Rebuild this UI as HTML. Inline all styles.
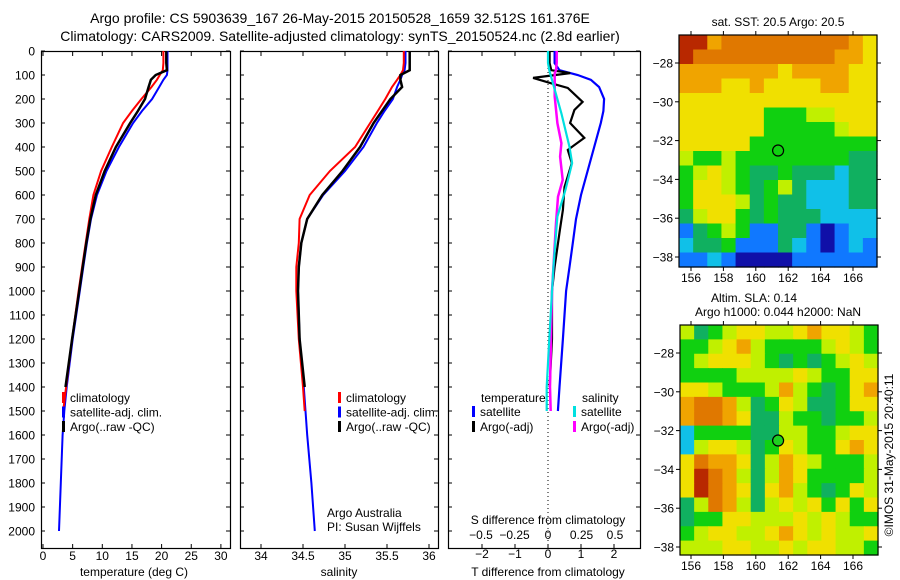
<!DOCTYPE html>
<html><head><meta charset="utf-8"><style>
body{margin:0;background:#fff;}
svg{display:block;font-family:"Liberation Sans",sans-serif;}
text{fill:#000;}
</style></head><body>
<svg id="c" width="900" height="580" viewBox="0 0 900 580">
<text x="340" y="23" font-size="14" text-anchor="middle">Argo profile: CS 5903639_167 26-May-2015 20150528_1659 32.512S 161.376E</text>
<text x="340" y="41" font-size="14" text-anchor="middle">Climatology: CARS2009. Satellite-adjusted climatology: synTS_20150524.nc (2.8d earlier)</text>
<g id="g"></g>
</svg>
<script>
// ---- data ----
const depthLevels=[0,50,80,100,120,150,200,250,300,400,500,600,700,800,900,1000,1200,1400,1500,1600,1800,2000];
const tempClim=[20.3,20.3,20.2,19.7,19.2,18.3,16.6,15.0,13.5,11.6,9.8,8.5,7.8,7.2,6.6,6.0,4.9,3.9,3.4];
const tempSat=[21.0,21.0,21.0,20.9,20.3,19.6,18.4,16.7,15.2,12.8,10.7,9.1,8.1,7.4,6.8,6.2,5.0,4.0,3.6,3.3,3.0,2.7];
const tempArgo=[20.8,20.8,20.9,19.0,18.2,17.8,17.2,16.0,14.7,12.3,10.4,8.9,8.0,7.3,6.7,6.1,4.9,3.8];
const salClim=[35.7,35.7,35.69,35.66,35.62,35.56,35.48,35.39,35.3,35.12,34.82,34.58,34.46,34.45,34.42,34.42,34.45,34.5,34.52];
const salSat=[35.72,35.72,35.71,35.68,35.66,35.62,35.57,35.47,35.38,35.22,35.0,34.74,34.55,34.48,34.45,34.44,34.46,34.51,34.53,34.55,34.6,34.64];
const salArgo=[35.77,35.77,35.77,35.66,35.66,35.68,35.54,35.44,35.34,35.18,34.97,34.73,34.55,34.48,34.45,34.44,34.46,34.52];
const dTSatDepth=[0,50,80,100,120,150,200,250,300,400,500,600,700,800,900,1000,1200,1400,1500];
const dTSat=[0.2,0.2,0.35,0.9,1.3,1.55,1.7,1.68,1.6,1.4,1.2,1.0,0.85,0.75,0.65,0.55,0.45,0.35,0.3];
const dTArgoDepth=[0,50,80,92,112,133,154,212,246,300,362,412,467,567,662,745,900,1000,1200,1400];
const dTArgo=[0.05,0.05,0.1,0.67,-0.45,0.06,0.6,1.05,0.8,0.67,1.1,0.6,0.72,0.5,0.45,0.36,0.2,0.12,0.12,0.05];
const dSArgoDepth=[0,50,80,93,190,301,384,440,537,607,718,1000,1400,1500];
const dSArgo=[0.065,0.065,0.06,0.05,0.05,0.07,0.1,0.09,0.11,0.075,0.06,0.03,0.015,0.02];
const dSSatDepth=[0,50,80,121,260,398,467,579,690,900,1200,1400,1500];
const dSSat=[0.0,0.0,0.01,0.03,0.1,0.16,0.18,0.13,0.07,0.04,0.01,-0.01,-0.01];
const depthTicks=[0,100,200,300,400,500,600,700,800,900,1000,1100,1200,1300,1400,1500,1600,1700,1800,1900,2000];
const tempTicks=[0,5,10,15,20,25,30];
const salTicks=[34,34.5,35,35.5,36];
const salTickLabels=["34","34.5","35","35.5","36"];
const dTTicks=[-2,-1,0,1,2];
const dSTicks=[-0.5,-0.25,0,0.25,0.5];
const dSTickLabels=["\u22120.5","\u22120.25","0","0.25","0.5"];
const latTicks=[-28,-30,-32,-34,-36,-38];
const lonTicks=[156,158,160,162,164,166];
const sstGrid=["rrOoooooooooOy","rooooooooooOOy","OOOOOOOyOOOOyy","OOOyyOyyyyOOyy","yyyyyyyyyyyyyy","yyyyyygggllyyy","yyyyyyggggglyy","yyyyyggggggggg","lgglggggggggGG","glylgGGgGGGcGG","gyylgGglGcccGG","gyyylGgGGcccGG","GlyygGgGGGcccc","bGglgbbGGbBbcc","cGGgbbbGcbBbcb","bbcbBBBBbbbbbb"];
const slaGrid=["lGglyyllyOyylg","gglyOlgggglylg","glyyylgGgGglyl","ggggllllylggyy","yylggglOlgGgyO","OooOlGgylGGgyy","OooOyGGlggGggl","cggggGGllgglyy","clyylGgylggyOy","yoOOyGlOylgggl","yroOlGlOyggggl","yroOyGyOlgGgyl","GloOlGlylygygy","Gggyylllylylgg","glyyllyOylylly","lllyyllylyyllg"];
const floatLon=161.376, floatLat=-32.512;
// ---- helpers ----
const NS="http://www.w3.org/2000/svg";
const G=document.getElementById('g');
function el(tag,attrs,parent){const e=document.createElementNS(NS,tag);for(const k in attrs)e.setAttribute(k,attrs[k]);(parent||G).appendChild(e);return e;}
const yD=d=>51+d*0.24;
const xT=t=>43+t*5.93;
const xS=s=>261+(s-34)*84;
const xdT=v=>548+v*33;
const xdS=v=>548+v*134;
function line(xs,ds,xf,col,w,name){
  const pts=xs.map((v,i)=>xf(v).toFixed(1)+","+yD(ds[i]).toFixed(1)).join(" ");
  const p=el('polyline',{points:pts,fill:'none',stroke:col,'stroke-width':w,'stroke-linejoin':'miter'});
  
  
}
function txt(x,y,s,size,anchor,name){const t=el('text',{x:x,y:y,'font-size':size,'text-anchor':anchor||'start'});t.textContent=s;return t;}
function box(x0,x1,name){const r=el('rect',{x:x0+0.5,y:51.5,width:x1-x0,height:497,fill:'none',stroke:'#000','stroke-width':1.2});}
// panels
const panels=[[41,230],[240,438],[448,640]];
panels.forEach((p,i)=>box(p[0],p[1],'profile-panel-'+(i+1)));
// depth ticks
depthTicks.forEach(d=>{
  const y=yD(d);
  txt(35,y+4.5,String(d),12,'end','depth-tick-label');
  panels.forEach(p=>{el('line',{x1:p[0],x2:p[0]+4,y1:y,y2:y,stroke:'#000'});el('line',{x1:p[1]-4,x2:p[1],y1:y,y2:y,stroke:'#000'});});
});
function xticks(vals,labels,xf,y,name,top){
  vals.forEach((v,i)=>{const x=xf(v);
    el('line',{x1:x,x2:x,y1:548,y2:544,stroke:'#000'});
    if(top)el('line',{x1:x,x2:x,y1:52,y2:56,stroke:'#000'});
    txt(x,y,labels[i],12,'middle',name);});
}
xticks(tempTicks,tempTicks.map(String),xT,560,'temp-tick-label',true);
xticks(salTicks,salTickLabels,xS,560,'sal-tick-label',true);
xticks(dTTicks,dTTicks.map(v=>v<0?"\u2212"+(-v):String(v)),xdT,558,'dt-tick-label',true);
dSTicks.forEach((v,i)=>txt(xdS(v),539,dSTickLabels[i],12,'middle','ds-tick-label'));
txt(134,576,'temperature (deg C)',12,'middle','x-axis-title-temp');
txt(339,576,'salinity',12,'middle','x-axis-title-sal');
txt(548,576,'T difference from climatology',12,'middle','x-axis-title-dt');
txt(548,524,'S difference from climatology',12,'middle','x-axis-title-ds');
// dotted zero line
const zl=el('line',{x1:548,x2:548,y1:52,y2:548,stroke:'#000','stroke-dasharray':'1,3'});

// series
line(tempSat,depthLevels,xT,'#0000ff',2,'temp-satellite-line');
line(tempClim,depthLevels,xT,'#ff0000',2,'temp-climatology-line');
line(tempArgo,depthLevels,xT,'#000',2.5,'temp-argo-line');
line(salSat,depthLevels,xS,'#0000ff',2,'sal-satellite-line');
line(salClim,depthLevels,xS,'#ff0000',2,'sal-climatology-line');
line(salArgo,depthLevels,xS,'#000',2.5,'sal-argo-line');
line(dTSat,dTSatDepth,xdT,'#0000ff',2.2,'dt-satellite-line');
line(dTArgo,dTArgoDepth,xdT,'#000',2.2,'dt-argo-line');
line(dSArgo,dSArgoDepth,xdS,'#ff00ff',2.5,'ds-argo-line');
line(dSSat,dSSatDepth,xdS,'#00e0e0',2.2,'ds-satellite-line');
// legends
function leg(x,y,col,label,name){const r=el('rect',{x:x,y:y-10,width:3,height:11,fill:col});txt(x+8,y,label,12,'start',name);}
[[62,'climatology','#ff0000'],[62,'satellite-adj. clim.','#0000ff'],[62,'Argo(..raw -QC)','#000']].forEach((a,i)=>leg(a[0],402+i*14.5,a[2],a[1],'legend-temp-'+i));
[[338,'climatology','#ff0000'],[338,'satellite-adj. clim.','#0000ff'],[338,'Argo(..raw -QC)','#000']].forEach((a,i)=>leg(a[0],402+i*14.5,a[2],a[1],'legend-sal-'+i));
txt(481,402,'temperature',12,'start','legend-dt-heading');
txt(582,402,'salinity',12,'start','legend-ds-heading');
leg(472,416,'#0000ff','satellite','legend-dt-satellite');
leg(472,431,'#000','Argo(-adj)','legend-dt-argo');
leg(573,416,'#00e0e0','satellite','legend-ds-satellite');
leg(573,431,'#ff00ff','Argo(-adj)','legend-ds-argo');
txt(327,517,'Argo Australia',12,'start','credit-argo-australia');
txt(327,531,'PI: Susan Wijffels',12,'start','credit-pi');
// maps
const pal={r:'#b82800',o:'#e07800',O:'#f0a400',y:'#f0e000',l:'#c0f000',g:'#10d010',G:'#10b060',c:'#10c0e8',b:'#1078ff',B:'#1010a8'};
function map(grid,x0,y0,w,h,lat28y,name){
  const rows=grid.length,cols=grid[0].length,cw=w/cols,ch=h/rows;
  grid.forEach((row,r)=>{for(let c=0;c<cols;c++){el('rect',{x:x0+c*cw,y:y0+r*ch,width:cw+0.6,height:ch+0.6,fill:pal[row[c]]||'#c0f000'});}});
  const b=el('rect',{x:x0,y:y0,width:w,height:h,fill:'none',stroke:'#000','stroke-width':1.2});
  
  const lonX=l=>691+(l-156)*16.2, latY=l=>lat28y+(-28-l)*19.4;
  latTicks.forEach(l=>{const y=latY(l);el('line',{x1:x0-4,x2:x0,y1:y,y2:y,stroke:'#000'});el('line',{x1:x0+w,x2:x0+w+4,y1:y,y2:y,stroke:'#000'});txt(x0-6,y+4.5,"\u2212"+(-l),12,'end',name+'-lat-label');});
  lonTicks.forEach(l=>{const x=lonX(l);el('line',{x1:x,x2:x,y1:y0-4,y2:y0,stroke:'#000'});el('line',{x1:x,x2:x,y1:y0+h,y2:y0+h+4,stroke:'#000'});txt(x,y0+h+15,String(l),12,'middle',name+'-lon-label');});
  const m=el('circle',{cx:lonX(floatLon),cy:latY(floatLat),r:5.5,fill:name==='sla-map'?'#20d020':'none',stroke:'#000','stroke-width':1.2});
  
}
map(sstGrid,679,35,198,232,63,'sst-map');
map(slaGrid,680,325,198,230,353,'sla-map');
txt(778,26,'sat. SST: 20.5 Argo: 20.5',12,'middle','sst-map-title');
txt(754,302,'Altim. SLA: 0.14',12,'middle','sla-map-title');
txt(778,316,'Argo h1000: 0.044 h2000: NaN',12,'middle','sla-map-subtitle');
const cr=txt(0,0,'\u00a9IMOS 31-May-2015 20:40:11',12,'middle','imos-credit');
cr.setAttribute('transform','translate(893,455) rotate(-90)');
</script>
</body></html>
